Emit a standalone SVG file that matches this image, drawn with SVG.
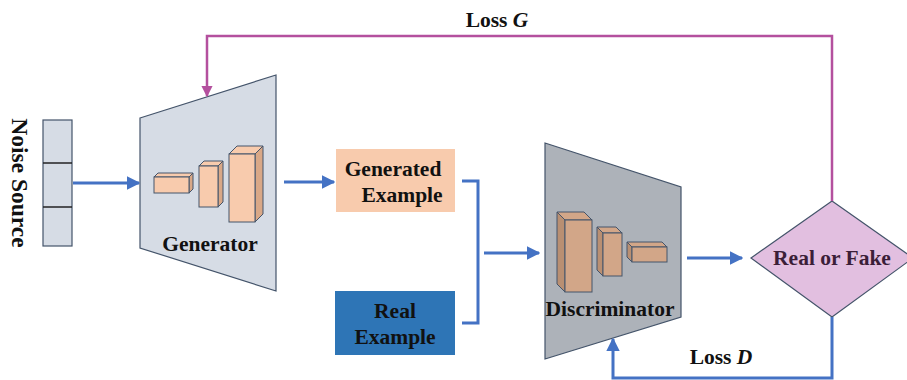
<svg xmlns="http://www.w3.org/2000/svg" width="907" height="380" viewBox="0 0 907 380">
  <defs>
    <style>
      .lbl { font-family: "Liberation Serif", "Times New Roman", serif; font-weight: bold; font-size: 21.5px; fill: #111; }
      .trap { stroke: #44546a; stroke-width: 1.2; }
      .blue { fill: none; stroke: #4472c4; stroke-width: 3; }
      .purple { fill: none; stroke: #b4509e; stroke-width: 2.5; }
      .gface { fill: #f8cbad; stroke: #44546a; stroke-width: 1; }
      .gside { fill: #d9a887; stroke: #44546a; stroke-width: 1; }
      .dface { fill: #d2a688; stroke: #44546a; stroke-width: 1; }
      .dside { fill: #b98f72; stroke: #44546a; stroke-width: 1; }
    </style>
    <marker id="ab" viewBox="0 0 10 10" refX="9" refY="5" markerWidth="4.5" markerHeight="4.5" orient="auto" markerUnits="strokeWidth">
      <path d="M0,0 L10,5 L0,10 z" fill="#4472c4"/>
    </marker>
    <marker id="ap" viewBox="0 0 10 10" refX="9" refY="5" markerWidth="4.5" markerHeight="4.5" orient="auto" markerUnits="strokeWidth">
      <path d="M0,0 L10,5 L0,10 z" fill="#b4509e"/>
    </marker>
  </defs>
  <rect width="907" height="380" fill="#ffffff"/>

  <!-- noise vector -->
  <g id="noise">
    <rect x="43" y="120" width="29" height="126" fill="#d6dce5" stroke="#44546a" stroke-width="1.2"/>
    <line x1="43" y1="163" x2="72" y2="163" stroke="#222" stroke-width="1.5"/>
    <line x1="43" y1="207" x2="72" y2="207" stroke="#222" stroke-width="1.5"/>
    <text class="lbl" transform="translate(12,183) rotate(90)" text-anchor="middle" style="font-size:23.5px">Noise Source</text>
  </g>

  <!-- generator -->
  <g id="generator">
    <polygon class="trap" points="140,118 276,75 276,291 140,248" fill="#d6dce5"/>
    <!-- small block -->
    <polygon class="gface" points="154,177 158,173 193,173 189,177"/>
    <polygon class="gside" points="189,177 193,173 193,189 189,193"/>
    <rect class="gface" x="154" y="177" width="35" height="16"/>
    <!-- medium block -->
    <polygon class="gface" points="199,166 204,161 223,161 218,166"/>
    <polygon class="gside" points="218,166 223,161 223,202 218,207"/>
    <rect class="gface" x="199" y="166" width="19" height="41"/>
    <!-- large block -->
    <polygon class="gface" points="229,154 237,146 263,146 255,154"/>
    <polygon class="gside" points="255,154 263,146 263,214 255,222"/>
    <rect class="gface" x="229" y="154" width="26" height="68"/>
    <text class="lbl" x="210" y="251" text-anchor="middle">Generator</text>
  </g>

  <!-- generated sample -->
  <g id="generated">
    <rect x="336" y="149" width="119" height="63" fill="#f8cbad"/>
    <text class="lbl" x="393" y="176" text-anchor="middle">Generated</text>
    <text class="lbl" x="402" y="202" text-anchor="middle">Example</text>
  </g>

  <!-- real sample -->
  <g id="real">
    <rect x="335" y="291" width="120" height="64" fill="#2e75b6"/>
    <text class="lbl" x="395" y="318" text-anchor="middle">Real</text>
    <text class="lbl" x="395" y="344" text-anchor="middle">Example</text>
  </g>

  <!-- discriminator -->
  <g id="discriminator">
    <polygon class="trap" points="545,143 681,187 681,317 545,359" fill="#adb2b9"/>
    <!-- large block -->
    <polygon class="dface" points="557,212 565,220 592,220 584,212"/>
    <polygon class="dside" points="557,212 565,220 565,292 557,284"/>
    <rect class="dface" x="565" y="220" width="27" height="72"/>
    <!-- medium block -->
    <polygon class="dface" points="597,227 603,233 622,233 616,227"/>
    <polygon class="dside" points="597,227 603,233 603,276 597,270"/>
    <rect class="dface" x="603" y="233" width="19" height="43"/>
    <!-- small block -->
    <polygon class="dface" points="627,242 632,247 667,247 662,242"/>
    <polygon class="dside" points="627,242 632,247 632,262 627,257"/>
    <rect class="dface" x="632" y="247" width="35" height="15"/>
    <text class="lbl" x="610" y="316" text-anchor="middle">Discriminator</text>
  </g>

  <!-- decision -->
  <g id="decision">
    <polygon points="751,258 832,201 913,258 832,317" fill="#e2bfe0" stroke="#44546a" stroke-width="1.2"/>
    <text class="lbl" x="832" y="265" text-anchor="middle" style="fill:#3b1e38">Real or Fake</text>
  </g>

  <!-- connectors -->
  <g id="connectors">
    <line class="blue" x1="73" y1="183" x2="139" y2="183" marker-end="url(#ab)"/>
    <line class="blue" x1="284" y1="182" x2="334" y2="182" marker-end="url(#ab)"/>
    <polyline class="blue" points="462,181 478,181 478,323 462,323"/>
    <line class="blue" x1="484" y1="253" x2="539" y2="253" marker-end="url(#ab)"/>
    <line class="blue" x1="687" y1="258" x2="742" y2="258" marker-end="url(#ab)"/>
    <polyline class="blue" points="832,317 832,378 613,378 613,339" marker-end="url(#ab)"/>
    <polyline class="purple" points="832,201 832,36 207,36 207,96" marker-end="url(#ap)"/>
    <text class="lbl" x="721" y="364" text-anchor="middle">Loss <tspan font-style="italic">D</tspan></text>
    <text class="lbl" x="497" y="27" text-anchor="middle">Loss <tspan font-style="italic">G</tspan></text>
  </g>
</svg>
